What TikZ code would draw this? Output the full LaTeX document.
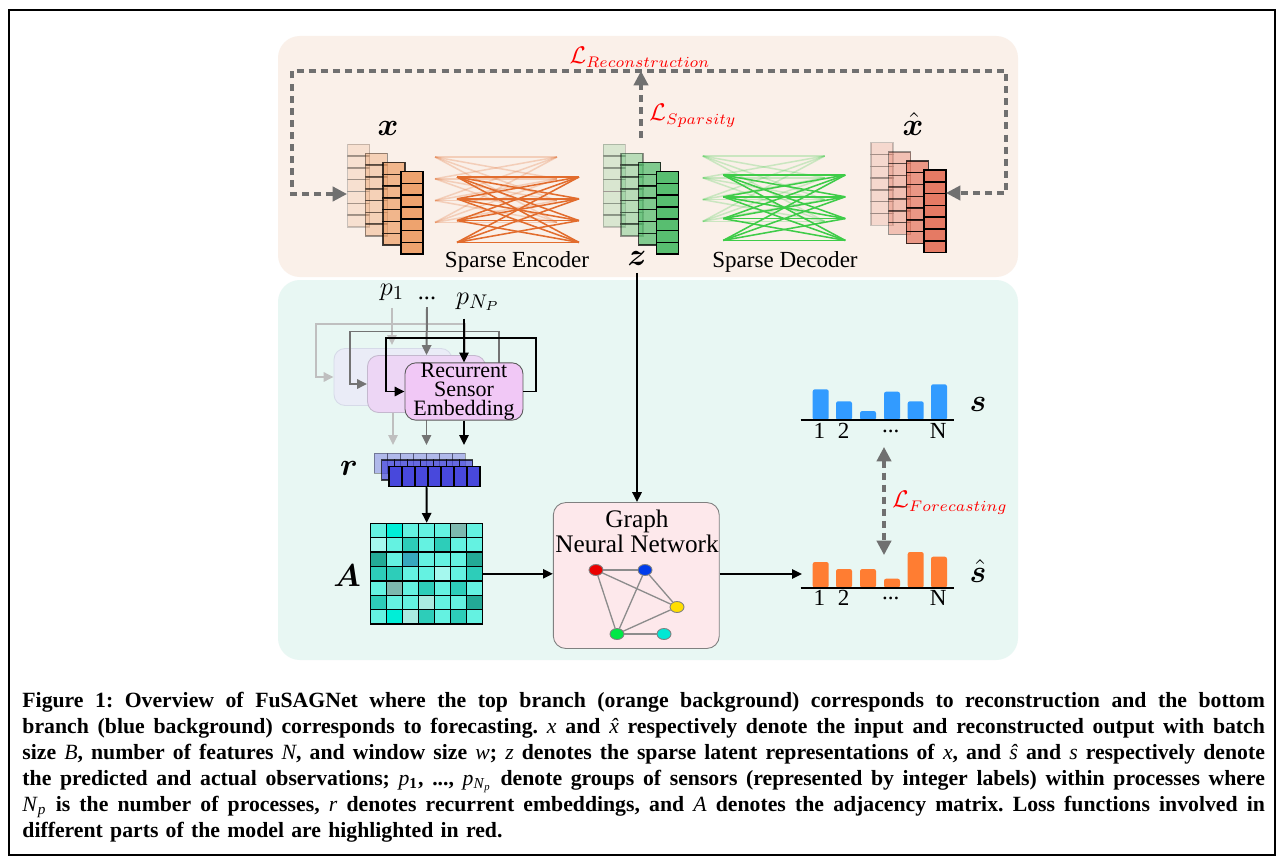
\documentclass[tikz,border=0pt]{standalone}
\usepackage{fontspec}
\setmainfont{Liberation Serif}
\usepackage{amsmath}
\usepackage{bm}
\usepackage{xcolor}
\usetikzlibrary{arrows.meta, shapes.geometric, calc}
\definecolor{bgtop}{RGB}{250,240,233}
\definecolor{bgbot}{RGB}{232,247,243}
\definecolor{xcol}{RGB}{238,163,110}
\definecolor{zcol}{RGB}{88,190,112}
\definecolor{hcol}{RGB}{229,122,100}
\definecolor{enc}{RGB}{226,108,45}
\definecolor{dec}{RGB}{62,204,72}
\definecolor{lossgray}{RGB}{112,112,112}
\definecolor{rcol}{RGB}{72,72,220}
\definecolor{rse}{RGB}{241,200,246}
\definecolor{gnnbg}{RGB}{253,232,235}
\definecolor{sbar}{RGB}{50,155,255}
\definecolor{shbar}{RGB}{255,125,50}
\definecolor{tL}{RGB}{100,242,225}
\definecolor{tB}{RGB}{0,238,215}
\definecolor{tV}{RGB}{165,248,238}
\definecolor{tM}{RGB}{45,205,185}
\definecolor{tD}{RGB}{35,170,150}
\definecolor{tG}{RGB}{125,185,175}
\definecolor{tS}{RGB}{55,168,190}
\definecolor{tP}{RGB}{170,235,225}
\newlength{\capw}
\setlength{\capw}{19.888cm}
\newcommand{\cv}[1]{\textnormal{\itshape #1}}
\newcommand{\hatc}[1]{\cv{\accent"02C6 #1}}
\newcommand{\capline}[1]{{\spaceskip=0pt\xspaceskip=0pt\makebox[\capw][s]{#1}}}
\newcommand{\tdots}{...}
\newcommand{\featstack}[3]{%
\foreach \c/\o in {0/0.2,1/0.4,2/0.75,3/1}{
\foreach \k in {0,...,6}{
\draw[cellbox, fill=#3, opacity=\o] ({#1+\c*17.7},{#2+\c*9.1+\k*11.8}) rectangle ++(22,11.8);
}
}
}
\newcommand{\sparsenet}[4]{%
\foreach \i in {0,...,3}{
\foreach \j in {0,...,3}{
\draw[#3, line width=0.7pt, opacity=#4] ({#1},{#2+\i*21.8}) -- ({#1+122},{#2+\j*21.8});
}
}
}
\tikzset{
arr/.style={line width=0.9pt, -{Triangle[length=4.5pt,width=4.2pt]}},
loss/.style={draw=lossgray, line width=1.4pt, dash pattern=on 3.2pt off 2.3pt},
losstip/.style={-{Triangle[length=6.5pt,width=6.5pt]}},
lossboth/.style={{Triangle[length=6.5pt,width=6.5pt]}-{Triangle[length=6.5pt,width=6.5pt]}},
cellbox/.style={draw=black, line width=0.7pt},
blockbox/.style={rounded corners=5pt, minimum width=1.888cm, minimum height=0.912cm, inner sep=0pt},
gdot/.style={ellipse, draw=gray, line width=0.4pt, minimum width=0.224cm, minimum height=0.176cm, inner sep=0pt},
mlabel/.style={font=\fontsize{14.5}{16}\selectfont},
plabel/.style={font=\fontsize{13}{15}\selectfont},
lossl/.style={text=red, font=\fontsize{10.5}{12}\selectfont},
txt/.style={font=\fontsize{10.5}{12}\selectfont}
}
\begin{document}
\begin{tikzpicture}[x=0.016cm, y=-0.016cm]
\useasboundingbox (0,0) rectangle (1282,865);
\fill[white] (0,0) rectangle (1282,865);
\draw[line width=0.9pt] (9,10) rectangle (1275,855);
\fill[bgtop, rounded corners=0.35cm] (278,36) rectangle (1018,277);
\fill[bgbot, rounded corners=0.35cm] (278,280) rectangle (1018,660);

\featstack{347.7}{144.3}{xcol}
\featstack{603.3}{144.3}{zcol}
\featstack{871}{142.7}{hcol}
\sparsenet{435}{157}{enc}{0.25}
\sparsenet{457}{177}{enc}{1}
\sparsenet{702.7}{156}{dec}{0.25}
\sparsenet{723.3}{175}{dec}{1}

\node[mlabel] (xlab) at (388,128) {$\bm{x}$};
\node[mlabel, inner sep=1pt] (xhlab) at (913,124) {$\hat{\bm{x}}$};
\node[mlabel] (zlab) at (637,258) {$\bm{z}$};
\node[txt] (enclab) at (517,262) {Sparse Encoder};
\node[txt] (declab) at (785,262) {Sparse Decoder};
\node[lossl] (lrec) at (640,57) {$\mathcal{L}_{Reconstruction}$};
\node[lossl] (lsp) at (693,116) {$\mathcal{L}_{Sparsity}$};

\coordinate (xin) at (347,194);
\coordinate (xhin) at (946,193);
\coordinate (cTL) at (292,71);
\coordinate (cBR) at (1006,193);
\coordinate (ztop) at (641,138);
\draw[loss, lossboth] (xin) -| (cTL) -| (cBR) -- (xhin);
\draw[loss, losstip] (ztop) -- (ztop |- cTL);

\node[plabel] (p1) at (392,292) {$p_1$};
\node[font=\fontsize{11}{13}\selectfont] (dots) at (427,298) {\tdots};
\node[plabel] (pN) at (478,302) {$p_{N_P}$};
\coordinate (rtop) at (426,445);

\draw[arr, black!25] (p1.south) -- ++(0,37);
\node[blockbox, fill={rgb,255:red,234;green,236;blue,247}, draw={rgb,255:red,214;green,218;blue,232}] (blk1) at (393,377) {};
\draw[arr, black!25] (blk1.east) -- ++(13,0) |- (316,324) |- (blk1.west);
\draw[arr, black!25] (blk1.south) -- (blk1.south |- rtop);
\node[blockbox, fill={rgb,255:red,237;green,214;blue,245}, draw={rgb,255:red,196;green,184;blue,206}] (blk2) at (426.5,384) {};
\draw[arr, black!55] (blk2.east) -- ++(13,0) |- (350,331.5) |- (blk2.west);
\draw[arr, black!55] (dots.south) -- (blk2.north);
\draw[arr, black!55] (blk2.south) -- (blk2.south |- rtop);
\node[blockbox, fill=rse, draw=black!65, align=center, font=\fontsize{10}{8.7}\selectfont] (rse) at (464,391.5) {Recurrent\\Sensor\\Embedding};
\draw[arr] (rse.east) -- ++(13,0) |- (386,338) |- (rse.west);
\draw[arr] (rse.north |- pN.south) -- (rse.north);
\draw[arr] (rse.south) -- (rse.south |- rtop);

\foreach \k/\o in {0/0.35,1/0.7,2/1}{
\foreach \c in {0,...,6}{
\draw[cellbox, fill=rcol, opacity=\o] ({374.3+\k*7.3+\c*13},{453.3+\k*6.7}) rectangle ++(13,20);
}
}
\node[mlabel] (rlab) at (349,468) {$\bm{r}$};
\coordinate (rbot) at (426.5,487);

\node[minimum width=1.786cm, minimum height=1.616cm, inner sep=0pt] (adj) at (426.7,573.8) {};
\foreach \row [count=\i from 0] in {{tL,tB,tL,tL,tL,tG,tL},{tV,tL,tM,tL,tM,tL,tL},{tD,tL,tS,tL,tL,tL,tD},{tM,tM,tL,tL,tV,tL,tM},{tL,tG,tL,tM,tL,tM,tL},{tM,tL,tL,tP,tL,tL,tD},{tL,tB,tP,tM,tL,tM,tL}}{
\foreach \cc [count=\j from 0] in \row {
\draw[cellbox, fill=\cc] ({370.7+\j*16},{523.3+\i*14.4}) rectangle ++(16,14.4);
}
}
\node[mlabel] (alab) at (347,576) {$\bm{A}$};
\draw[arr] (rbot) -- (adj.north);

\node[draw=black!50, fill=gnnbg, rounded corners=0.2cm, minimum width=2.656cm, minimum height=2.336cm] (gnn) at (636.3,575.5) {};
\node[align=center, font=\fontsize{11.5}{10.4}\selectfont] (gnntxt) at (637,531) {Graph\\Neural Network};
\node[gdot, fill={rgb,255:red,235;green,0;blue,0}] (g1) at (596,570) {};
\node[gdot, fill={rgb,255:red,0;green,60;blue,235}] (g2) at (645,570) {};
\node[gdot, fill={rgb,255:red,255;green,222;blue,0}] (g3) at (677,607) {};
\node[gdot, fill={rgb,255:red,0;green,232;blue,70}] (g4) at (617,634) {};
\node[gdot, fill={rgb,255:red,0;green,232;blue,212}] (g5) at (664,634) {};
\foreach \a/\b in {g1/g2, g1/g3, g1/g4, g2/g4, g2/g3, g3/g4, g4/g5}{
\draw[black!45, line width=0.6pt] (\a) -- (\b);
}
\draw[arr] (adj.east) -- (adj.east -| gnn.west);
\draw[arr] (zlab.south) -- (zlab.south |- gnn.north);

\foreach \x/\t in {812.7/389.3, 836/401.3, 860/411, 884/391.7, 907.7/401.3, 931/384.3}{
\fill[sbar, rounded corners=1pt] (\x,420) -- (\x,\t) -- (\x+16,\t) -- (\x+16,420) -- cycle;
}
\foreach \x/\t in {812.7/562, 836/569, 860/569, 884/578.7, 907.7/552, 931/556.7}{
\fill[shbar, rounded corners=1pt] (\x,587.7) -- (\x,\t) -- (\x+16,\t) -- (\x+16,587.7) -- cycle;
}
\draw[line width=0.9pt] (800.7,420) -- (954.3,420);
\draw[line width=0.9pt] (800.7,587.7) -- (954.3,587.7);
\foreach \x/\l [count=\n] in {819.3/1, 843.7/2, 890.7/\tdots, 938.3/N}{
\node[txt] (sl\n) at (\x,431) {\l};
\node[txt] (shl\n) at (\x,598) {\l};
}
\node[mlabel] (slab) at (978,404) {$\bm{s}$};
\node[mlabel] (shlab) at (978,571) {$\hat{\bm{s}}$};
\coordinate (shin) at (802,574);
\draw[arr] (gnn.east |- shin) -- (shin);
\coordinate (stop) at (884,447);
\coordinate (sbot) at (884,555);
\draw[loss, lossboth] (stop) -- (sbot);
\node[lossl] (lfc) at (950,503) {$\mathcal{L}_{Forecasting}$};

\node[anchor=base west, inner sep=0pt, text width=19.888cm, align=left, font=\fontsize{9.9}{11.9}\selectfont\bfseries\frenchspacing] (caption) at (22,707) {%
\capline{Figure 1: Overview of FuSAGNet where the top branch (orange background) corresponds to reconstruction and the bottom}\\
\capline{branch (blue background) corresponds to forecasting. \cv{x} and \hatc{x} respectively denote the input and reconstructed output with batch}\\
\capline{size \cv{B}, number of features \cv{N}, and window size \cv{w}; \cv{z} denotes the sparse latent representations of \cv{x}, and \cv{\^{s}} and \cv{s} respectively denote}\\
\capline{the predicted and actual observations; \cv{p}\textsubscript{1}, ..., \cv{p}\textsubscript{\cv{N}\textsubscript{\cv{p}}} denote groups of sensors (represented by integer labels) within processes where}\\
\capline{\cv{N}\textsubscript{\cv{p}} is the number of processes, \cv{r} denotes recurrent embeddings, and \cv{A} denotes the adjacency matrix. Loss functions involved in}\\
different parts of the model are highlighted in red.};
\end{tikzpicture}
\end{document}
